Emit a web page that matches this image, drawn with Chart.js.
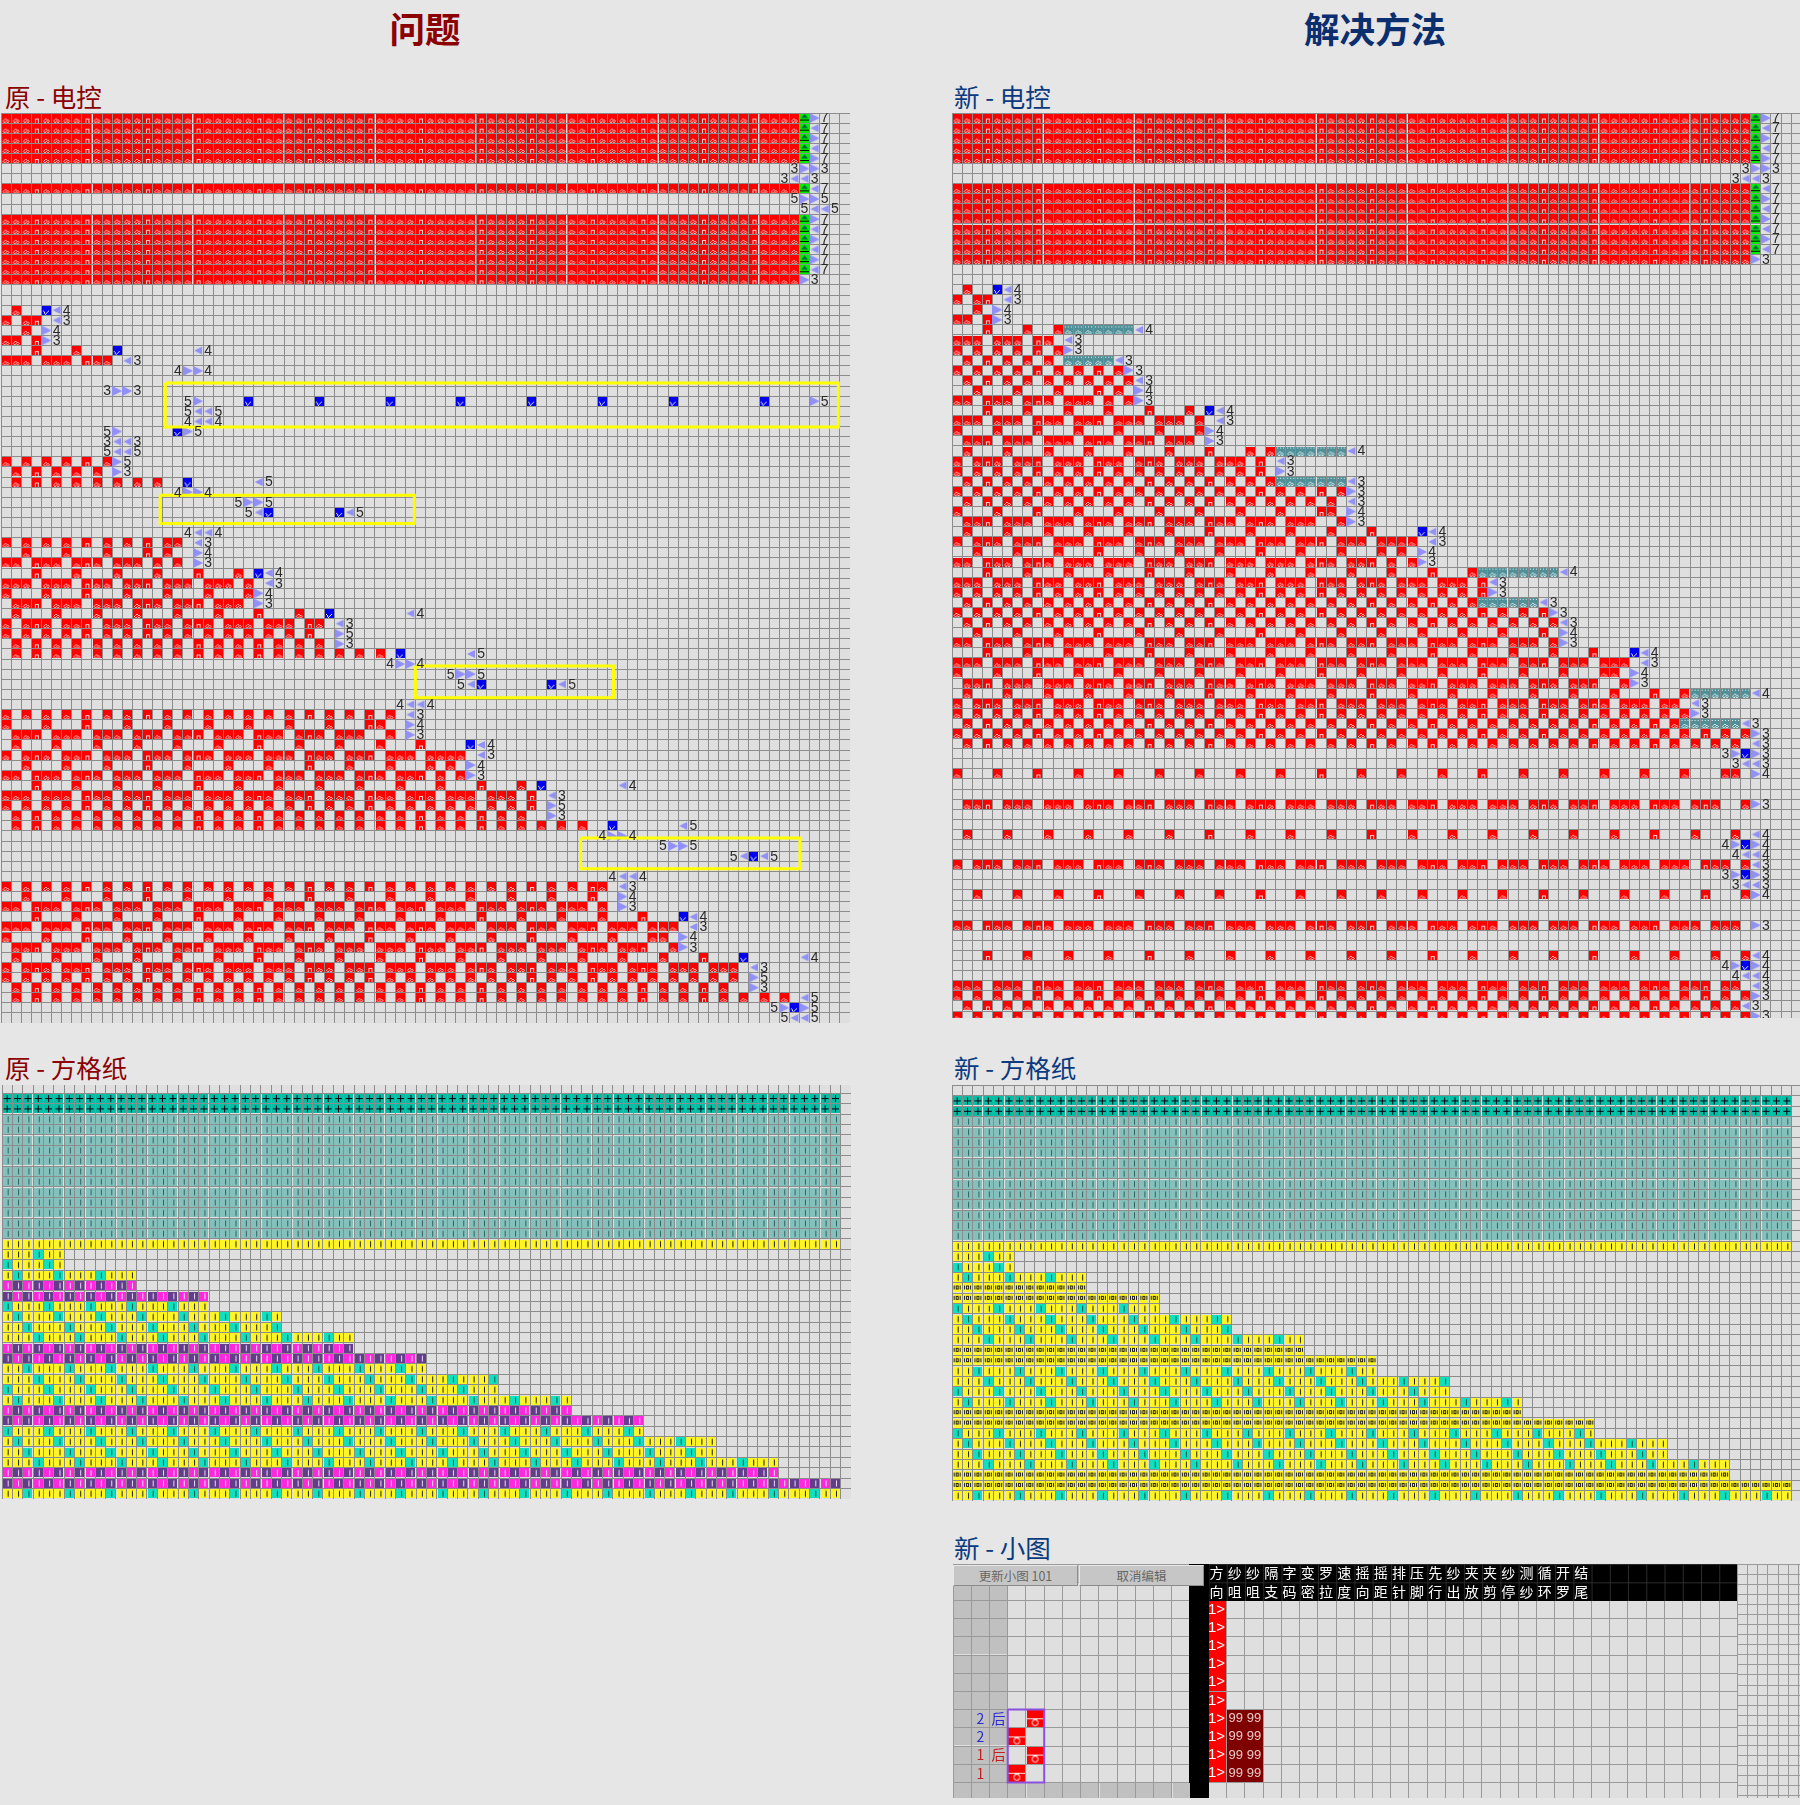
<!DOCTYPE html>
<html lang="zh"><head><meta charset="utf-8"><title>问题 / 解决方法</title>
<script src="https://cdn.jsdelivr.net/npm/chart.js@4/dist/chart.umd.js"></script>
<style>
html,body{margin:0;padding:0;background:#e6e6e6;width:1800px;height:1805px;overflow:hidden;font-family:"Noto Sans CJK SC",sans-serif}
canvas{position:absolute;background:#dfdfdf}
.t{position:absolute;transform:translate(-50%,-50%);font-weight:700;font-size:35.5px;white-space:nowrap}
.s{position:absolute;transform:translateY(-50%);font-size:25.5px;white-space:nowrap}
.b{position:absolute;box-sizing:border-box;background:#c6c6c6;border:1px solid;border-color:#e8e8e8 #8c8c8c #8c8c8c #e8e8e8;color:#666;font-size:12.5px;text-align:center;line-height:19px}
</style></head><body>
<script>
// ---------- values ----------
const pageTitles = [["问题",425,26.5,"#8b0000"],["解决方法",1375,26.5,"#0b2f6e"]];
const panelTitles = [["原 - 电控",5,94.5,"#8b0000"],["新 - 电控",954,94.5,"#0b3a7e"],["原 - 方格纸",5,1066,"#8b0000"],["新 - 方格纸",954,1066,"#0b3a7e"],["新 - 小图",954,1546,"#0b3a7e"]];
const buttonLabels = ["更新小图 101","取消编辑"];
const solid = "RRRRRRRRRRRRRRRRRRRR|RRRRRRRRRRRRRRRRRRRR|RRRRRRRRRRRRRRRRRRRR|RRRRRRRRRRRRRRRRRRR";
// [row, cell string, tokens "col+symbol"]: R red, B blue, G green, T teal, < > arrows, digits
const originalRows = [
[0,solid,"79G 80> 817"],[1,solid,"79G 80< 817"],[2,solid,"79G 80> 817"],[3,solid,"79G 80< 817"],[4,solid,"79G 80> 817"],
[5,"","783 79> 80> 813"],[6,"","773 78< 79< 803"],[7,solid,"79G 80< 817"],[8,"","785 79> 80> 815"],[9,"","795 80< 81< 825"],
[10,solid,"79G 80> 817"],[11,solid,"79G 80< 817"],[12,solid,"79G 80> 817"],[13,solid,"79G 80< 817"],[14,solid,"79G 80> 817"],[15,solid,"79G 80< 817"],[16,solid,"79> 803"],
[19,".R","4B 5< 64"],[20,"R.RR","5< 63"],[21,"..R","4> 54"],[22,"RR.R","4> 53"],
[23,"...R...R","11B 19< 204"],[24,"RRR.RRR.RRR","12< 133"],[25,"","174 18> 19> 204"],
[27,"","103 11> 12> 133"],[28,"","185 19> 24B 31B 38B 45B 52B 59B 66B 75B 80> 815"],[29,"","185 19< 20< 215"],[30,"","184 19< 20< 214"],
[31,"","105 11> 17B 18> 195"],[32,"","103 11< 12< 133"],[33,"","105 11< 12< 135"],
[34,"R.R.R.R.R.R","11> 125"],[35,".R.R.R.R.R","11> 123"],[36,".R.R.R.R.R.R.R.R","18B 25< 265"],
[37,"","174 18> 19> 204"],[38,"","235 24> 25> 265"],[39,"","245 25< 26B 33B 34< 355"],
[41,"","184 19< 20< 214"],[42,"R.R.R.R.R.R.R.R.RR","19< 203"],[43,"..R...R...R...R.R","19> 204"],[44,"RR.RRR.RRR.RRR.R.R","19> 203"],
[45,"...R...R...R...R...R|...R","25B 26< 274"],
[46,"RRR.RRR.RRR.RRR.RRR.|RRR.R","26< 273"],
[47,"R...R...R...R...R...|R...R","25> 264"],
[48,".RRR.RRR.RRR.RRR.RRR|.RRR","25> 263"],
[49,".R...R...R...R...R..|.R...R...R","32B 40< 414"],
[50,"R.RRR.RRR.RRR.RRR.RR|R.RRR.RRR.RR","33< 343"],
[51,"R.R.R.R.R.R.R.R.R.R.|R.R.R.R.R.R","33> 345"],
[52,".R.R.R.R.R.R.R.R.R.R|.R.R.R.R.R.R","33> 343"],
[53,".R.R.R.R.R.R.R.R.R.R|.R.R.R.R.R.R.R.R.R","39B 46< 475"],
[54,"","384 39> 40> 414"],[55,"","445 45> 46> 475"],[56,"","455 46< 47B 54B 55< 565"],
[58,"","394 40< 41< 424"],
[59,"R.R.R.R.R.R.R.R.R.R.|R.R.R.R.R.R.R.R.R.R","40< 413"],
[60,"R...R...R...R...R...|R...R...R...R...RR","40> 414"],
[61,".RRR.RRR.RRR.RRR.RRR|.RRR.RRR.RRR.RRR..R","40> 413"],
[62,".R...R...R...R...R..|.R...R...R...R...R...R","46B 47< 484"],
[63,"R.RRR.RRR.RRR.RRR.RR|R.RRR.RRR.RRR.RRR.RR|R.RRRR","47< 483"],
[64,"..R...R...R...R...R.|..R...R...R...R...R.|..R.R","46> 474"],
[65,"RR.RRR.RRR.RRR.RRR.R|RR.RRR.RRR.RRR.RRR.R|RR.R.R","46> 473"],
[66,"...R...R...R...R...R|...R...R...R...R...R|...R...R...R","53B 61< 624"],
[67,"RRR.RRR.RRR.RRR.RRR.|RRR.RRR.RRR.RRR.RRR.|RRR.RRR.RRR.R","54< 553"],
[68,"R.R.R.R.R.R.R.R.R.R.|R.R.R.R.R.R.R.R.R.R.|R.R.R.R.R.R.R","54> 555"],
[69,".R.R.R.R.R.R.R.R.R.R|.R.R.R.R.R.R.R.R.R.R|.R.R.R.R.R.R","54> 553"],
[70,".R.R.R.R.R.R.R.R.R.R|.R.R.R.R.R.R.R.R.R.R|.R.R.R.R.R.R.R.R.R","60B 67< 685"],
[71,"","594 60> 61> 624"],[72,"","655 66> 67> 685"],[73,"","725 73< 74B 75< 765"],
[75,"","604 61< 62< 634"],
[76,"R.R.R.R.R.R.R.R.R.R.|R.R.R.R.R.R.R.R.R.R.|R.R.R.R.R.R.R.R.R.RR","61< 623"],
[77,"..R...R...R...R...R.|..R...R...R...R...R.|..R...R...R...R...R.","61> 624"],
[78,"RR.RRR.RRR.RRR.RRR.R|RR.RRR.RRR.RRR.RRR.R|RR.RRR.RRR.RRR.RRR.R","61> 623"],
[79,"...R...R...R...R...R|...R...R...R...R...R|...R...R...R...R...R|...R","67B 68< 694"],
[80,"RRR.RRR.RRR.RRR.RRR.|RRR.RRR.RRR.RRR.RRR.|RRR.RRR.RRR.RRR.RRR.|RRR.RRR","68< 693"],
[81,"R...R...R...R...R...|R...R...R...R...R...|R...R...R...R...R...|R...RR","67> 684"],
[82,".RRR.RRR.RRR.RRR.RRR|.RRR.RRR.RRR.RRR.RRR|.RRR.RRR.RRR.RRR.RRR|.RRR..R","67> 683"],
[83,".R...R...R...R...R..|.R...R...R...R...R..|.R...R...R...R...R..|.R...R...R","73B 79< 804"],
[84,"R.RRR.RRR.RRR.RRR.RR|R.RRR.RRR.RRR.RRR.RR|R.RRR.RRR.RRR.RRR.RR|R.RRR.RRR.RRR","74< 753"],
[85,"R.R.R.R.R.R.R.R.R.R.|R.R.R.R.R.R.R.R.R.R.|R.R.R.R.R.R.R.R.R.R.|R.R.R.R.R.R.R","74> 755"],
[86,".R.R.R.R.R.R.R.R.R.R|.R.R.R.R.R.R.R.R.R.R|.R.R.R.R.R.R.R.R.R.R|.R.R.R.R.R.R","74> 753"],
[87,".R.R.R.R.R.R.R.R.R.R|.R.R.R.R.R.R.R.R.R.R|.R.R.R.R.R.R.R.R.R.R|.R.R.R.R.R.R.R.R.R","79< 805"],
[88,"","765 77> 78B 79> 805"],[89,"","775 78< 79< 805"]
];
const redesignRows = [
[0,solid,"79G 80> 817"],[1,solid,"79G 80< 817"],[2,solid,"79G 80> 817"],[3,solid,"79G 80< 817"],[4,solid,"79G 80> 817"],
[5,"","783 79> 80> 813"],[6,"","773 78< 79< 803"],
[7,solid,"79G 80< 817"],[8,solid,"79G 80> 817"],[9,solid,"79G 80< 817"],[10,solid,"79G 80> 817"],[11,solid,"79G 80< 817"],[12,solid,"79G 80> 817"],[13,solid,"79G 80< 817"],[14,solid,"79> 803"],
[17,".R","4B 5< 64"],[18,"R.RR","5< 63"],[19,"..R","4> 54"],[20,"RR.R","4> 53"],
[21,"...R...R..R","11T 12T 13T 14T 15T 16T 17T 18< 194"],[22,"RRR.RRR.RR","11< 123"],[23,"R.R.R.R.R.R","11> 123"],
[24,".R.R.R.R.R","11T 12T 13T 14T 15T 16< 173"],[25,"R.R.R.R.R.R.R.R.R","17> 183"],[26,".R.R.R.R.R.R.R.R.R","18< 193"],
[27,"..R...R...R...R.R","18> 194"],[28,"RR.RRR.RRR.RRR.R.R","18> 193"],
[29,"...R...R...R...R...R|...R","25B 26< 274"],
[30,"RRR.RRR.RRR.RRR.RRR.|RRR.R","26< 273"],
[31,"R...R...R...R...R...|R...R","25> 264"],
[32,".RRR.RRR.RRR.RRR.RRR|.RRR","25> 263"],
[33,".R...R...R...R...R..|.R...R...R.R","32T 33T 34T 35T 36T 37T 38T 39< 404"],
[34,"R.RRR.RRR.RRR.RRR.RR|R.RRR.RRR.R","32< 333"],
[35,"R.R.R.R.R.R.R.R.R.R.|R.R.R.R.R.R","32> 333"],
[36,".R.R.R.R.R.R.R.R.R.R|.R.R.R.R.R.R","32T 33T 34T 35T 36T 37T 38T 39< 403"],
[37,"R.R.R.R.R.R.R.R.R.R.|R.R.R.R.R.R.R.R.R.R","39> 403"],
[38,".R.R.R.R.R.R.R.R.R.R|.R.R.R.R.R.R.R.R.R","39< 403"],
[39,"R...R...R...R...R...|R...R...R...R...RR","39> 404"],
[40,".RRR.RRR.RRR.RRR.RRR|.RRR.RRR.RRR.RRR..R","39> 403"],
[41,".R...R...R...R...R..|.R...R...R...R...R..|.R","46B 47< 484"],
[42,"R.RRR.RRR.RRR.RRR.RR|R.RRR.RRR.RRR.RRR.RR|R.RRRR","47< 483"],
[43,"..R...R...R...R...R.|..R...R...R...R...R.|..R.R","46> 474"],
[44,"RR.RRR.RRR.RRR.RRR.R|RR.RRR.RRR.RRR.RRR.R|RR.R.R","46> 473"],
[45,"...R...R...R...R...R|...R...R...R...R...R|...R...R...R","52T 53T 54T 55T 56T 57T 58T 59T 60< 614"],
[46,"RRR.RRR.RRR.RRR.RRR.|RRR.RRR.RRR.RRR.RRR.|RRR.RRR.RRR.R","53< 543"],
[47,"R.R.R.R.R.R.R.R.R.R.|R.R.R.R.R.R.R.R.R.R.|R.R.R.R.R.R.R","53> 543"],
[48,".R.R.R.R.R.R.R.R.R.R|.R.R.R.R.R.R.R.R.R.R|.R.R.R.R.R.R","52T 53T 54T 55T 56T 57T 58< 593"],
[49,"R.R.R.R.R.R.R.R.R.R.|R.R.R.R.R.R.R.R.R.R.|R.R.R.R.R.R.R.R.R.R","59> 603"],
[50,".R.R.R.R.R.R.R.R.R.R|.R.R.R.R.R.R.R.R.R.R|.R.R.R.R.R.R.R.R.R.R","60< 613"],
[51,"..R...R...R...R...R.|..R...R...R...R...R.|..R...R...R...R...R.","60> 614"],
[52,"RR.RRR.RRR.RRR.RRR.R|RR.RRR.RRR.RRR.RRR.R|RR.RRR.RRR.RRR.RRR.R","60> 613"],
[53,"...R...R...R...R...R|...R...R...R...R...R|...R...R...R...R...R|...R","67B 68< 694"],
[54,"RRR.RRR.RRR.RRR.RRR.|RRR.RRR.RRR.RRR.RRR.|RRR.RRR.RRR.RRR.RRR.|RRR.RRR","68< 693"],
[55,"R...R...R...R...R...|R...R...R...R...R...|R...R...R...R...R...|R...RR","67> 684"],
[56,".RRR.RRR.RRR.RRR.RRR|.RRR.RRR.RRR.RRR.RRR|.RRR.RRR.RRR.RRR.RRR|.RRR..R","67> 683"],
[57,".R...R...R...R...R..|.R...R...R...R...R..|.R...R...R...R...R..|.R...R...R..R","73T 74T 75T 76T 77T 78T 79< 804"],
[58,"R.RRR.RRR.RRR.RRR.RR|R.RRR.RRR.RRR.RRR.RR|R.RRR.RRR.RRR.RRR.RR|R.RRR.RRR.RR","73< 743"],
[59,"R.R.R.R.R.R.R.R.R.R.|R.R.R.R.R.R.R.R.R.R.|R.R.R.R.R.R.R.R.R.R.|R.R.R.R.R.R.R","73> 743"],
[60,".R.R.R.R.R.R.R.R.R.R|.R.R.R.R.R.R.R.R.R.R|.R.R.R.R.R.R.R.R.R.R|.R.R.R.R.R.R","72T 73T 74T 75T 76T 77T 78< 793"],
[61,"R.R.R.R.R.R.R.R.R.R.|R.R.R.R.R.R.R.R.R.R.|R.R.R.R.R.R.R.R.R.R.|R.R.R.R.R.R.R.R.R.R","79> 803"],
[62,".R.R.R.R.R.R.R.R.R.R|.R.R.R.R.R.R.R.R.R.R|.R.R.R.R.R.R.R.R.R.R|.R.R.R.R.R.R.R.R.R","79< 803"],
[63,"","763 77> 78B 79> 803"],[64,"","773 78< 79< 803"],
[65,"R...R...R...R...R...|R...R...R...R...R...|R...R...R...R...R...|R...R...R...R...RR","79> 804"],
[68,".RRR.RRR.RRR.RRR.RRR|.RRR.RRR.RRR.RRR.RRR|.RRR.RRR.RRR.RRR.RRR|.RRR.RRR.RRR.RRR..R","79> 803"],
[71,".R...R...R...R...R..|.R...R...R...R...R..|.R...R...R...R...R..|.R...R...R...R...R","79< 804"],
[72,"","764 77> 78B 79> 804"],[73,"","774 78< 79< 804"],
[74,"R.RRR.RRR.RRR.RRR.RR|R.RRR.RRR.RRR.RRR.RR|R.RRR.RRR.RRR.RRR.RR|R.RRR.RRR.RRR.RRR.R","79< 803"],
[75,"","763 77> 78B 79> 803"],[76,"","773 78< 79< 803"],
[77,"..R...R...R...R...R.|..R...R...R...R...R.|..R...R...R...R...R.|..R...R...R...R...R","79> 804"],
[80,"RR.RRR.RRR.RRR.RRR.R|RR.RRR.RRR.RRR.RRR.R|RR.RRR.RRR.RRR.RRR.R|RR.RRR.RRR.RRR.RRR","79> 803"],
[83,"...R...R...R...R...R|...R...R...R...R...R|...R...R...R...R...R|...R...R...R...R..R","79< 804"],
[84,"","764 77> 78B 79> 804"],[85,"","774 78< 79< 804"],
[86,"RRR.RRR.RRR.RRR.RRR.|RRR.RRR.RRR.RRR.RRR.|RRR.RRR.RRR.RRR.RRR.|RRR.RRR.RRR.RRR.RR","79< 803"],
[87,"R.R.R.R.R.R.R.R.R.R.|R.R.R.R.R.R.R.R.R.R.|R.R.R.R.R.R.R.R.R.R.|R.R.R.R.R.R.R.R.R.R","79> 803"],
[88,".R.R.R.R.R.R.R.R.R.R|.R.R.R.R.R.R.R.R.R.R|.R.R.R.R.R.R.R.R.R.R|.R.R.R.R.R.R.R.R.R","78< 793"],
[89,"R.R.R.R.R.R.R.R.R.R.|R.R.R.R.R.R.R.R.R.R.|R.R.R.R.R.R.R.R.R.R.|R.R.R.R.R.R.R.R.R.R","79> 803"]
];
// highlight frames on the original panel: col0, row0, col1, row1
const originalFrames = [[16.25,26.7,82.85,31.06],[15.75,37.8,40.9,40.6],[41.0,54.7,60.6,57.83],[57.35,71.7,79.05,74.75]];
// fabric rows, shared by both grid-paper panels. A=dark teal, T=teal, Y=yellow, G=green, M=magenta, P=purple
const fabricHead = "AAAAAAAAAAAAAAAAAAAA|AAAAAAAAAAAAAAAAAAAA|AAAAAAAAAAAAAAAAAAAA|AAAAAAAAAAAAAAAAAAAA|A";
const fabricBody = "TTTTTTTTTTTTTTTTTTTT|TTTTTTTTTTTTTTTTTTTT|TTTTTTTTTTTTTTTTTTTT|TTTTTTTTTTTTTTTTTTTT|T";
const fabricRows = [fabricHead,fabricHead,fabricBody,fabricBody,fabricBody,fabricBody,fabricBody,fabricBody,fabricBody,fabricBody,fabricBody,fabricBody,fabricBody,fabricBody,
"YYYYYYYYYYYYYYYYYYYY|YYYYYYYYYYYYYYYYYYYY|YYYYYYYYYYYYYYYYYYYY|YYYYYYYYYYYYYYYYYYYY|Y",
"YYYGYY",
"GYYYGY",
"YGYYYGYYYGYYY",
"MPMPMPMPMPMPM",
"PMPMPMPMPMPMPMPMPMPM",
"GYYYGYYYGYYYGYYYGYYY",
"YGYYYGYYYGYYYGYYYGYY|YGYYYGY",
"YYGYYYGYYYGYYYGYYYGY|YYGYYYG",
"YYYGYYYGYYYGYYYGYYYG|YYYGYYYGYYYGYY",
"MPMPMPMPMPMPMPMPMPMP|MPMPMPMPMPMPMP",
"PMPMPMPMPMPMPMPMPMPM|PMPMPMPMPMPMPMPMPMPM|P",
"YYGYYYGYYYGYYYGYYYGY|YYGYYYGYYYGYYYGYYYGY|Y",
"YYYGYYYGYYYGYYYGYYYG|YYYGYYYGYYYGYYYGYYYG|YYYGYYYG",
"GYYYGYYYGYYYGYYYGYYY|GYYYGYYYGYYYGYYYGYYY|GYYYGYYY",
"YGYYYGYYYGYYYGYYYGYY|YGYYYGYYYGYYYGYYYGYY|YGYYYGYYYGYYYGY",
"MPMPMPMPMPMPMPMPMPMP|MPMPMPMPMPMPMPMPMPMP|MPMPMPMPMPMPMPM",
"PMPMPMPMPMPMPMPMPMPM|PMPMPMPMPMPMPMPMPMPM|PMPMPMPMPMPMPMPMPMPM|PM",
"GYYYGYYYGYYYGYYYGYYY|GYYYGYYYGYYYGYYYGYYY|GYYYGYYYGYYYGYYYGYYY|GY",
"YGYYYGYYYGYYYGYYYGYY|YGYYYGYYYGYYYGYYYGYY|YGYYYGYYYGYYYGYYYGYY|YGYYYGYYY",
"YYGYYYGYYYGYYYGYYYGY|YYGYYYGYYYGYYYGYYYGY|YYGYYYGYYYGYYYGYYYGY|YYGYYYGYY",
"YYYGYYYGYYYGYYYGYYYG|YYYGYYYGYYYGYYYGYYYG|YYYGYYYGYYYGYYYGYYYG|YYYGYYYGYYYGYYY",
"MPMPMPMPMPMPMPMPMPMP|MPMPMPMPMPMPMPMPMPMP|MPMPMPMPMPMPMPMPMPMP|MPMPMPMPMPMPMPM",
"PMPMPMPMPMPMPMPMPMPM|PMPMPMPMPMPMPMPMPMPM|PMPMPMPMPMPMPMPMPMPM|PMPMPMPMPMPMPMPMPMPM|P",
"YYGYYYGYYYGYYYGYYYGY|YYGYYYGYYYGYYYGYYYGY|YYGYYYGYYYGYYYGYYYGY|YYGYYYGYYYGYYYGYYYGY|Y"
];
// small-pattern panel: g gray, k black, K black column, F red flag, D dark red, C red cell
const smallGrid = [
"gggggggggggggKkkkkkkkkkkkkkkkkkkkkkkkkkkkkk",
"ggg..........Kkkkkkkkkkkkkkkkkkkkkkkkkkkkkk",
"ggg..........KF",
"ggg..........KF",
"ggg..........KF",
"ggg..........KF",
"ggg..........KF",
"ggg..........KF",
"ggg.C........KFDD",
"gggC.........KFDD",
"ggg.C........KFDD",
"gggC.........KFDD",
"gggggggggggggK"
];
const headerTop = ["方","纱","纱","隔","字","变","罗","速","摇","摇","排","压","先","纱","夹","夹","纱","测","循","开","结"];
const headerBottom = ["向","咀","咀","支","码","密","拉","度","向","距","针","脚","行","出","放","剪","停","纱","环","罗","尾"];
const flagRows = [2,3,4,5,6,7,8,9,10,11];
const needleRows = [8,9,10,11];
const needleValues = ["99","99"];
const stepLabels = [[8,1,"2","#2a2ad0"],[8,2,"后","#2a2ad0"],[9,1,"2","#2a2ad0"],[10,1,"1","#c02020"],[10,2,"后","#c02020"],[11,1,"1","#c02020"]];
const patternFrame = [[3,8],[5,8],[5,12],[3,12],[3,8]];

// ---------- sprites (style only) ----------
const mk=(w,h,f)=>{const c=document.createElement('canvas');c.width=w;c.height=h;f(c.getContext('2d'),w,h);return c;};
const px=(g,col,rows,ox,oy)=>{g.fillStyle=col;rows.forEach((r,j)=>[...r].forEach((ch,i)=>{if(ch==='#')g.fillRect(ox+i,oy+j,1,1);}));};
const curl=["..##...",".#..##.","#..#..#",".##.##."], loop=[".####..",".#..#..",".#..#..",".#..#.."], vee=["#....#",".#..#.",".#.#..","..#..."];
const cell=(bg,fn)=>mk(9,9,(g,w,h)=>{g.fillStyle=bg;g.fillRect(0,0,w,h);if(fn)fn(g);});
const tri=(d)=>mk(10,10,g=>{g.fillStyle='#9090f6';g.beginPath();if(d>0){g.moveTo(0,0);g.lineTo(10,5);g.lineTo(0,10);}else{g.moveTo(9,1);g.lineTo(1,5);g.lineTo(9,9);}g.fill();});
const bar=(bg,col)=>cell(bg,g=>{g.fillStyle=col;g.fillRect(5,1.5,1,6);});
const sprites={
 R:cell('#ff0000',g=>px(g,'rgba(255,255,255,.7)',curl,1,5)),
 r:cell('#ff0000',g=>px(g,'rgba(255,255,255,.8)',loop,2,5)),
 B:cell('#0000ee',g=>px(g,'rgba(255,255,255,.9)',vee,1,5)),
 G:cell('#00ee00',g=>{g.fillStyle='#064';g.beginPath();g.moveTo(4.5,0.5);g.lineTo(8,4.5);g.lineTo(1,4.5);g.fill();g.fillStyle='#000';g.fillRect(0,6,9,1);}),
 T:cell('#4f8f98',g=>{px(g,'#e8f4f4',["#..#..#"],1,1);px(g,'rgba(230,245,245,.8)',curl,1,5);}),
 '<':tri(-1),'>':tri(1),
 A:cell('#00bfa5',g=>{g.fillStyle='#001';g.fillRect(1,4,7,1);g.fillRect(4,1,1,7);}),
 t:bar('#84c0bc','#33625f'),
 Y:bar('#fff428','#222200'),
 g:bar('#10e0c0','#045a4c'),
 M:bar('#ff28dc','#ffd8f6'),
 P:bar('#643c8c','#e8dcf4'),
 H:cell('#fff428',g=>px(g,'#222',["#.###.#","#.#.#.#","#.#.#.#","#.###.#"],1,2)),
 fg:mk(17,17,g=>{g.fillStyle='#c0c0c0';g.fillRect(0,0,17,17);}),
 fk:mk(20,20,g=>{g.fillStyle='#000';g.fillRect(0,0,20,20);g.fillStyle='#2c2c2c';g.fillRect(1,0,1,20);g.fillRect(0,1,20,1);}),
 fK:mk(20,20,g=>{g.fillStyle='#000';g.fillRect(0,0,20,20);}),
 fF:mk(18,18,g=>{g.fillStyle='#ff0000';g.fillRect(0,0,18,18);}),
 fD:mk(18,18,g=>{g.fillStyle='#7e0000';g.fillRect(0,0,18,18);}),
 fC:mk(17,17,g=>{g.fillStyle='#ff0000';g.fillRect(0,0,17,17);g.fillStyle='#e8e8e8';g.fillRect(0,8,17,1);g.strokeStyle='#fff';g.lineWidth=1;g.beginPath();g.arc(8.5,12.5,3,0,7);g.moveTo(6,9);g.lineTo(11,9);g.stroke();})
};
// ---------- helpers ----------
const clean=s=>s.replace(/\|/g,'');
const textPlugin=items=>({id:'cellText',afterDatasetsDraw(chart){const c=chart.ctx,xs=chart.scales.x,ys=chart.scales.y;c.save();c.textAlign='center';c.textBaseline='middle';
  items.forEach(t=>{c.fillStyle=t.color;c.font=t.font;c.fillText(t.text,xs.getPixelForValue(t.col+.5)+(t.dx||0),ys.getPixelForValue(t.row+.5)+(t.dy||0));});c.restore();}});
const axis=(min,max,rev,color)=>({type:'linear',min,max,reverse:rev,border:{display:false},
  grid:{color,lineWidth:1,drawTicks:false},ticks:{display:false,stepSize:1,autoSkip:false,includeBounds:false}});
function makeChart(left,top,w,h,xr,yr,datasets,texts,gridColor){
  const c=document.createElement('canvas');c.width=w;c.height=h;c.style.left=left+'px';c.style.top=top+'px';c.style.width=w+'px';c.style.height=h+'px';document.body.appendChild(c);
  return new Chart(c,{type:'scatter',data:{datasets},plugins:[textPlugin(texts)],options:{responsive:false,animation:false,devicePixelRatio:1,events:[],parsing:false,
    layout:{padding:0,autoPadding:false},plugins:{legend:{display:false},tooltip:{enabled:false},title:{display:false}},
    scales:{x:axis(xr[0],xr[1],false,gridColor),y:axis(yr[0],yr[1],true,gridColor)}}});
}
const ds=(pts,st,label)=>({label,data:pts,pointStyle:st,pointRadius:4,pointHoverRadius:4,clip:false,showLine:false});
const frame=(pts,color,w)=>({label:'frame',data:pts,showLine:true,borderColor:color,borderWidth:w,pointRadius:0,clip:false,fill:false,tension:0});
function controlPanel(rows){
  const groups={},texts=[];
  const add=(k,col,row)=>{(groups[k]=groups[k]||[]).push({x:col+.5,y:row+.5});};
  rows.forEach(([row,cells,tokens])=>{
    [...clean(cells)].forEach((ch,col)=>{if(ch==='R')add((col%11===3||col%11===8)?'r':'R',col,row);});
    tokens.split(' ').forEach(tk=>{const col=+tk.slice(0,-1),sym=tk.slice(-1);
      if(/\d/.test(sym))texts.push({col,row,text:sym,color:'#2a2a2a',font:'14px "Liberation Sans"',dy:.5});else add(sym,col,row);});
  });
  return {datasets:Object.keys(groups).map(k=>ds(groups[k],sprites[k],k)),texts};
}
function fabricPanel(rows,map){
  const groups={};
  rows.forEach((s,row)=>[...clean(s)].forEach((ch,col)=>{const k=map[ch];(groups[k]=groups[k]||[]).push({x:col+.5,y:row+.5});}));
  return Object.keys(groups).map(k=>ds(groups[k],sprites[k],k));
}
// ---------- page ----------
pageTitles.forEach(([t,x,y,c])=>{const d=document.createElement('div');d.className='t';d.textContent=t;d.style.cssText+=`left:${x}px;top:${y}px;color:${c}`;document.body.appendChild(d);});
panelTitles.forEach(([t,x,y,c])=>{const d=document.createElement('div');d.className='s';d.textContent=t;d.style.cssText+=`left:${x}px;top:${y}px;color:${c}`;document.body.appendChild(d);});

const grid='#8c8c8c';
const pa=controlPanel(originalRows);
makeChart(1,113,849,910,[0,84],[0,90],[...originalFrames.map(([a,b,c,d])=>frame([{x:a,y:b},{x:c,y:b},{x:c,y:d},{x:a,y:d},{x:a,y:b}],'#ffff00',3)),...pa.datasets],pa.texts,grid);
const pb=controlPanel(redesignRows);
makeChart(952,113,848,905,[0,848/10.11],[0,905/10.09],pb.datasets,pb.texts,grid);
makeChart(2,1085,849,414,[0,82],[-0.8,39],fabricPanel(fabricRows,{A:'A',T:'t',Y:'Y',G:'g',M:'M',P:'P'}),[],grid);
makeChart(952,1085,848,416,[0,848/10.37],[-1.03,39],fabricPanel(fabricRows,{A:'A',T:'t',Y:'Y',G:'g',M:'H',P:'H'}),[],grid);

// small-pattern panel
const eGroups={},eTexts=[];
smallGrid.forEach((s,row)=>[...s].forEach((ch,col)=>{if(ch!=='.'){(eGroups[ch]=eGroups[ch]||[]).push({x:col+.5,y:row+.5});}}));
const fnt=(n,w)=>`${w||''} ${n}px "Noto Sans CJK SC"`;
headerTop.forEach((t,i)=>eTexts.push({col:14+i,row:0,text:t,color:'#fff',font:fnt(14),dx:-1}));
headerBottom.forEach((t,i)=>eTexts.push({col:14+i,row:1,text:t,color:'#fff',font:fnt(14),dx:-1}));
flagRows.forEach(r=>eTexts.push({col:14,row:r,text:'1>',color:'#fff',font:'15px "Liberation Sans"',dx:-1}));
needleRows.forEach(r=>needleValues.forEach((v,i)=>eTexts.push({col:15+i,row:r,text:v,color:'#e8c8c8',font:'13px "Liberation Sans"'})));
stepLabels.forEach(([r,c,t,col])=>eTexts.push({col:c,row:r,text:t,color:col,font:fnt(14)}));
const eMap={g:'fg',k:'fk',K:'fK',F:'fF',D:'fD',C:'fC'};
const eSets=[frame(patternFrame.map(([x,y])=>({x,y})),'#8a50e0',2),...Object.keys(eGroups).map(k=>ds(eGroups[k],sprites[eMap[k]],k))];
makeChart(953,1564,784,234,[0,784/18.24],[0,234/18.2],eSets,eTexts,'#9a9a9a');
makeChart(1737,1564,63,234,[0,6.1],[0,23.2],[],[],'#9a9a9a');
buttonLabels.forEach((t,i)=>{const d=document.createElement('div');d.className='b';d.textContent=t;d.style.cssText+=`left:${953+i*126}px;top:1565px;width:125px;height:21px`;document.body.appendChild(d);});
</script>
</body></html>
